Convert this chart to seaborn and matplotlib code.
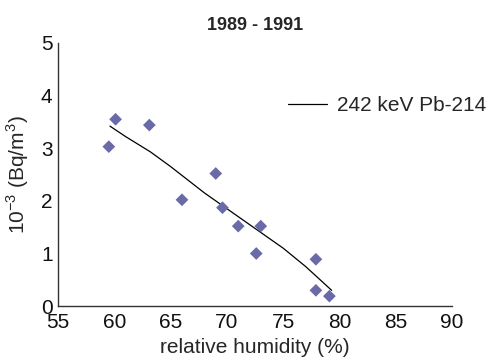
import matplotlib
matplotlib.use("Agg")
import matplotlib.pyplot as plt
import seaborn as sns
import pandas as pd

# Measured points
humidity = [59.5, 60.1, 63.1, 66.0, 69.0, 69.6, 71.0, 73.0, 72.6, 77.9, 77.9, 79.1]
activity = [3.03, 3.55, 3.44, 2.02, 2.52, 1.87, 1.52, 1.52, 1.00, 0.89, 0.30, 0.19]

# Fitted trend line (242 keV Pb-214)
fit_x = [59.6, 61.0, 63.2, 65.0, 66.5, 68.0, 70.0, 72.0, 75.0, 77.0, 79.3]
fit_y = [3.42, 3.22, 2.93, 2.65, 2.40, 2.15, 1.85, 1.55, 1.10, 0.75, 0.30]

x_ticks = [55, 60, 65, 70, 75, 80, 85, 90]
y_ticks = [0, 1, 2, 3, 4, 5]

sns.set_theme(style="white")
plt.rcParams['font.family'] = ['Liberation Sans', 'DejaVu Sans']

fig = plt.figure(figsize=(4.93, 3.61), dpi=100)
ax = fig.add_axes([0.118, 0.152, 0.799, 0.729])

pts = pd.DataFrame({"x": humidity, "y": activity})
fit = pd.DataFrame({"x": fit_x, "y": fit_y})

sns.scatterplot(data=pts, x="x", y="y", ax=ax, marker="D", s=42,
                color="#6a6aa8", edgecolor="none", zorder=3)
sns.lineplot(data=fit, x="x", y="y", ax=ax, color="black", linewidth=0.9,
             label="242 keV Pb-214", zorder=2)

ax.set_xlim(55, 90)
ax.set_ylim(0, 5)
ax.set_xticks(x_ticks)
ax.set_yticks(y_ticks)
ax.tick_params(axis="both", length=0, labelsize=15, colors="#111111")
ax.tick_params(axis="x", pad=5)
ax.tick_params(axis="y", pad=4)
for s in ["top", "right"]:
    ax.spines[s].set_visible(False)
for s in ["left", "bottom"]:
    ax.spines[s].set_color("#333333")
    ax.spines[s].set_linewidth(1.0)

ax.set_xlabel("relative humidity (%)", fontsize=15, labelpad=4)
ax.set_ylabel("10$^{\\mathregular{-3}}$ (Bq/m$^{\\mathregular{3}}$)", fontsize=15, labelpad=7)
ax.set_title("1989 - 1991", fontsize=13, fontweight="bold", pad=9)

leg = ax.legend(loc="upper right", bbox_to_anchor=(1.135, 0.87), frameon=False,
                fontsize=15, handlelength=1.85, handletextpad=0.5)

fig.savefig("out.png", dpi=100)
